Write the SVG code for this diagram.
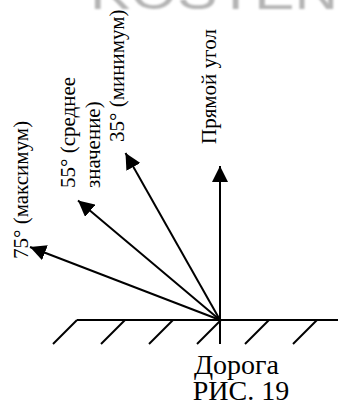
<svg xmlns="http://www.w3.org/2000/svg" width="338" height="405" viewBox="0 0 338 405">
<style>
.lbl{font-family:"Liberation Serif","Times New Roman",serif;font-size:21px;fill:#000}
.cap{font-family:"Liberation Serif","Times New Roman",serif;font-size:28px;fill:#000;text-anchor:middle}
.ln{stroke:#000;stroke-width:2;fill:none}
.wm{font-family:"Liberation Sans",Arial,sans-serif;font-size:50px;fill:#b4b4b4}
</style>
<defs>
<marker id="ah" markerUnits="userSpaceOnUse" markerWidth="18" markerHeight="16" refX="16" refY="8" orient="auto">
<path d="M0,0 L16,8 L0,16 z" fill="#000"/>
</marker>
<filter id="bl"><feGaussianBlur stdDeviation="0.8"/></filter>
</defs>
<rect width="338" height="405" fill="#fff"/>
<text class="wm" x="90" y="9" textLength="248" lengthAdjust="spacingAndGlyphs" filter="url(#bl)">KOSTEN</text>
<g id="road">
<line class="ln" x1="77" y1="320" x2="338" y2="320"/>
<line class="ln" x1="77" y1="320" x2="53" y2="344"/>
<line class="ln" x1="125" y1="320" x2="101" y2="344"/>
<line class="ln" x1="173" y1="320" x2="149" y2="344"/>
<line class="ln" x1="221" y1="320" x2="197" y2="344"/>
<line class="ln" x1="269" y1="320" x2="245" y2="344"/>
<line class="ln" x1="317" y1="320" x2="293" y2="344"/>
<line class="ln" x1="220" y1="320" x2="220" y2="344"/>
</g>
<g id="connectors">
<line class="ln" x1="220" y1="320" x2="220" y2="166" marker-end="url(#ah)"/>
<line class="ln" x1="220" y1="320" x2="125.5" y2="153" marker-end="url(#ah)"/>
<line class="ln" x1="220" y1="320" x2="78" y2="200.5" marker-end="url(#ah)"/>
<line class="ln" x1="220" y1="320" x2="30" y2="247" marker-end="url(#ah)"/>
</g>
<g id="label-right">
<text class="lbl" transform="translate(216,144) rotate(-90)">Прямой угол</text>
</g>
<g id="label-35">
<text class="lbl" transform="translate(124,142) rotate(-90)">35° (минимум)</text>
</g>
<g id="label-55">
<text class="lbl" transform="translate(75,188) rotate(-90)">55° (среднее</text>
<text class="lbl" transform="translate(100,188) rotate(-90)">значение)</text>
</g>
<g id="label-75">
<text class="lbl" transform="translate(28,259) rotate(-90)">75° (максимум)</text>
</g>
<g id="captions">
<text class="cap" x="236.5" y="374">Дорога</text>
<text class="cap" x="241" y="400">РИС. 19</text>
</g>
</svg>
